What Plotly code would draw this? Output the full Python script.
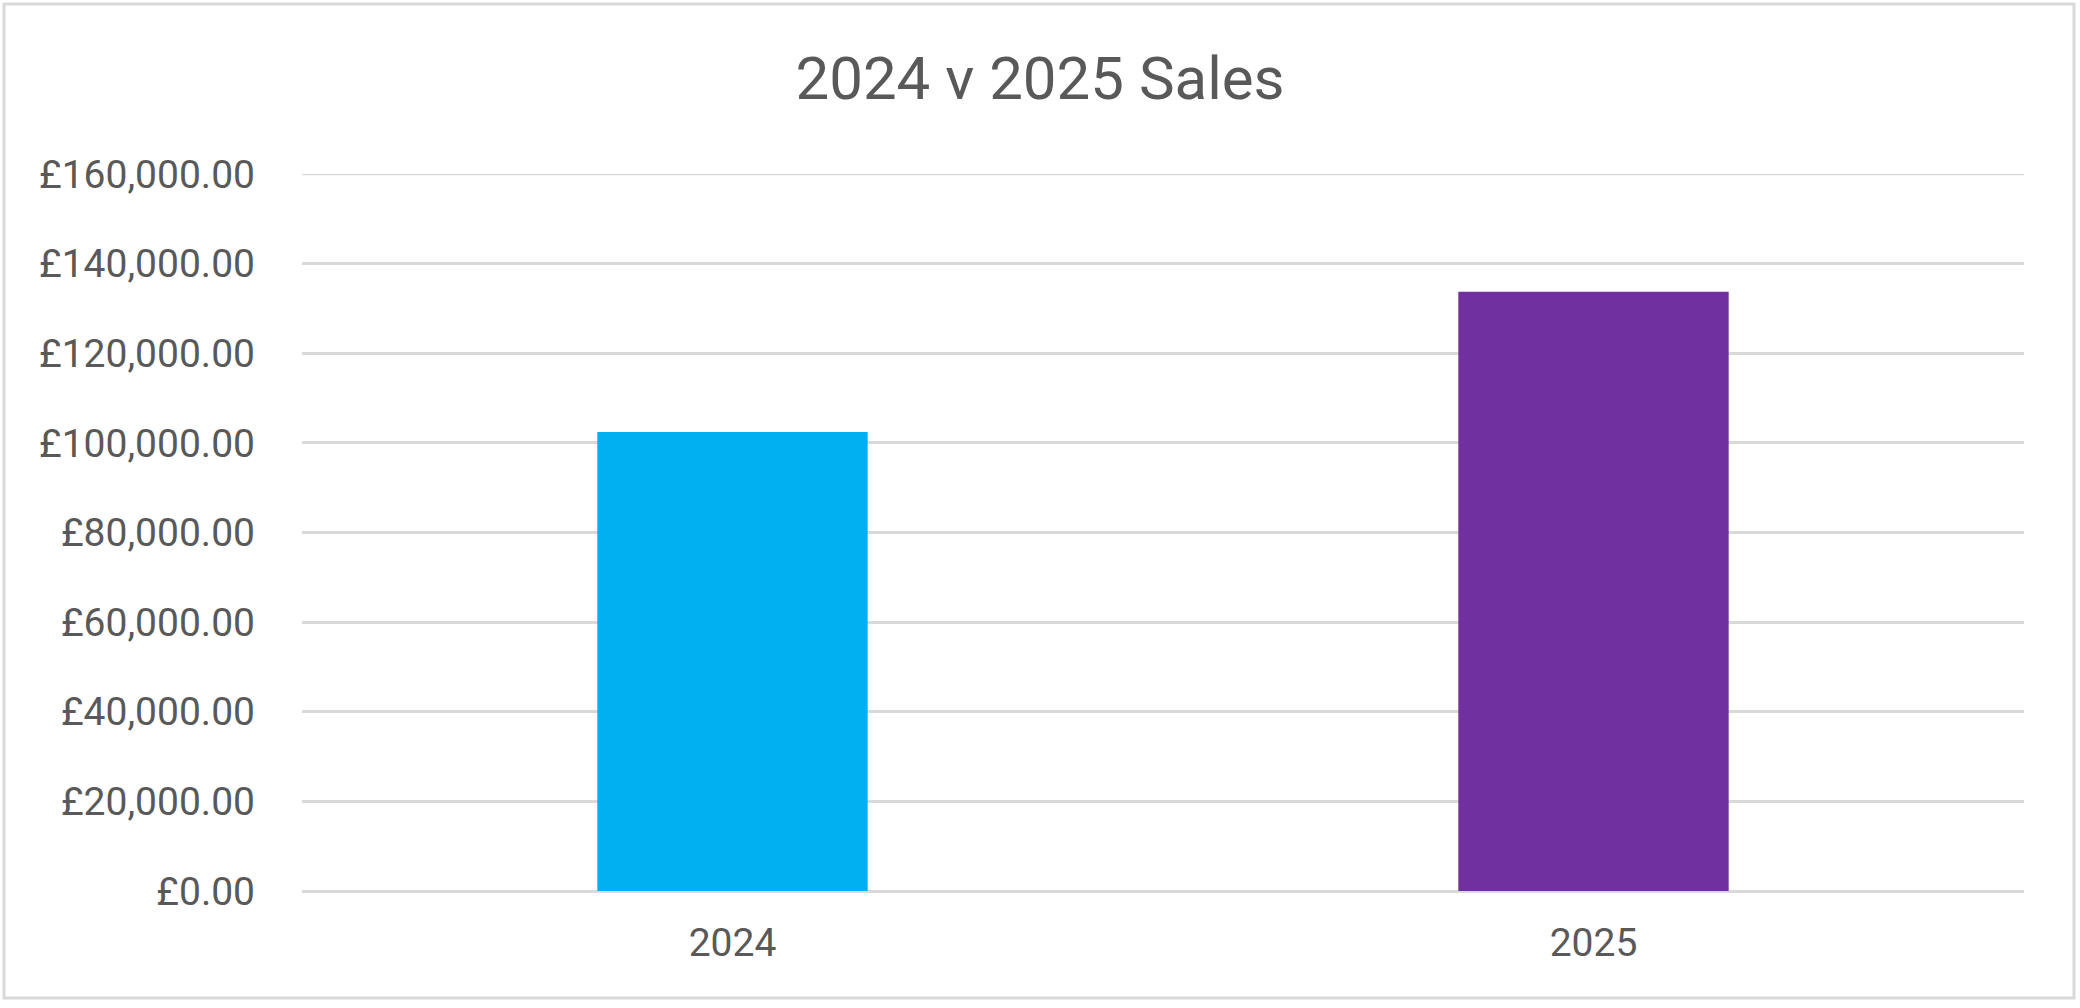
import plotly.graph_objects as go

years = ["2024", "2025"]
sales = [102400, 133700]
bar_colors = ["#00B0F0", "#7030A0"]
y_ticks = [0, 20000, 40000, 60000, 80000, 100000, 120000, 140000, 160000]
y_tick_labels = [f"£{v:,.2f}" for v in y_ticks]
chart_title = "2024 v 2025 Sales"

W, H = 2080, 1008
L, R, T, B = 302, 56, 174, 117
pw, ph = W - L - R, H - T - B

fig = go.Figure(
    go.Bar(
        x=years,
        y=sales,
        marker=dict(color=bar_colors, line=dict(width=0)),
        hoverinfo="x+y",
    )
)

TXT = "#595959"
GRID = "#D9D9D9"

# outer chart border (pixel positions converted to paper coordinates)
def px_x(v):
    return (v - L) / pw

def px_y(v):
    return 1 - (v - T) / ph

fig.add_shape(
    type="rect", xref="paper", yref="paper",
    x0=px_x(4), x1=px_x(2074), y0=px_y(4), y1=px_y(998),
    line=dict(color=GRID, width=3), fillcolor="rgba(0,0,0,0)", layer="below",
)
# top gridline (plotly drops the grid line sitting on the plot edge)
fig.add_shape(
    type="line", xref="paper", yref="y",
    x0=0, x1=1, y0=y_ticks[-1], y1=y_ticks[-1],
    line=dict(color=GRID, width=2.5), layer="below",
)

fig.update_layout(
    width=W, height=H,
    margin=dict(l=L, r=R, t=T, b=B, autoexpand=False),
    paper_bgcolor="white", plot_bgcolor="white",
    font=dict(family="Roboto", color=TXT, size=39),
    title=dict(
        text=chart_title, x=0.5, xref="container", xanchor="center",
        y=1 - 78 / H, yref="container", yanchor="middle",
        font=dict(family="Roboto", size=60, color=TXT),
    ),
    bargap=0.686,
    showlegend=False,
    xaxis=dict(
        type="category", showgrid=False, showline=False, zeroline=False,
        ticks="", ticklabelstandoff=25,
        tickfont=dict(family="Roboto", size=39, color=TXT),
    ),
    yaxis=dict(
        range=[0, 160000], tickmode="array", tickvals=y_ticks, ticktext=y_tick_labels,
        showgrid=True, gridcolor=GRID, gridwidth=2.5,
        zeroline=True, zerolinecolor=GRID, zerolinewidth=2.5,
        showline=False, ticks="", ticklabelstandoff=46,
        tickfont=dict(family="Roboto", size=39, color=TXT),
    ),
)

fig.write_html(
    "out.html",
    config={"displayModeBar": False},
    post_script="document.body.style.margin='0';document.body.style.overflow='hidden';",
)
